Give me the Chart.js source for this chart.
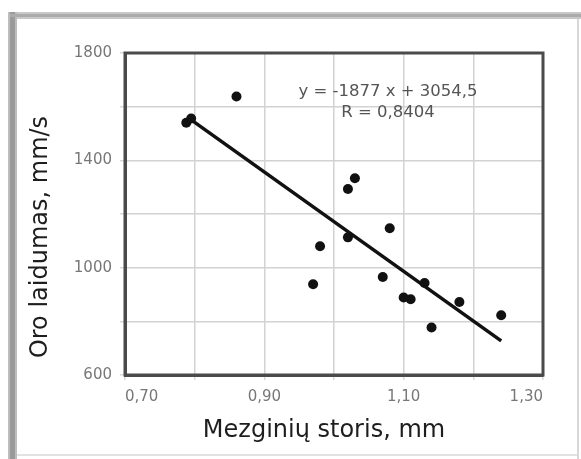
<!DOCTYPE html>
<html>
<head>
<meta charset="utf-8">
<script src="https://cdn.jsdelivr.net/npm/chart.js@4.4.1/dist/chart.umd.min.js"></script>
<style>
  html, body { margin: 0; padding: 0; background: #fff; }
  #wrap { position: relative; width: 581px; height: 459px; }
</style>
</head>
<body>
<div id="wrap"><canvas id="c" width="581" height="459"></canvas></div>
<script>
// ---- data ----
const thickness = [0.788, 0.795, 0.86, 0.97, 0.98, 1.02, 1.02, 1.03, 1.07, 1.08, 1.10, 1.11, 1.13, 1.14, 1.18, 1.24];
const airPermeability = [1540, 1556, 1638, 938, 1080, 1113, 1293, 1333, 965, 1147, 889, 882, 943, 777, 872, 823];
const trendX = [0.79, 1.24];
const trendY = [1560, 727];
const xTickValues = [0.70, 0.90, 1.10, 1.30];
const xTickLabels = ['0,70', '0,90', '1,10', '1,30'];
const yTickValues = [600, 1000, 1400, 1800];
const yTickLabels = ['600', '1000', '1400', '1800'];
const xTitle = 'Mezginių storis, mm';
const yTitle = 'Oro laidumas, mm/s';
const equationLines = ['y = -1877 x + 3054,5', 'R = 0,8404'];

const points = thickness.map((x, i) => ({ x: x, y: airPermeability[i] }));
const trend = trendX.map((x, i) => ({ x: x, y: trendY[i] }));

function lookup(values, labels, v) {
  for (let i = 0; i < values.length; i++) {
    if (Math.abs(values[i] - v) < 1e-6) return labels[i];
  }
  return '';
}

const FONT = '"DejaVu Sans", sans-serif';

const decor = {
  id: 'decor',
  beforeDraw(chart) {
    const ctx = chart.ctx;
    ctx.save();
    ctx.fillStyle = '#fff';
    ctx.fillRect(0, 0, chart.width, chart.height);
    // outer frame
    ctx.fillStyle = '#c8c8c8';
    ctx.fillRect(8, 12, 573, 7);
    ctx.fillStyle = '#bdbdbd';
    ctx.fillRect(8, 12, 9, 447);
    ctx.fillStyle = '#9a9a9a';
    ctx.fillRect(10, 12, 5, 447);
    ctx.fillStyle = '#ababab';
    ctx.fillRect(10, 14, 571, 3);
    ctx.fillStyle = '#d8d8d8';
    ctx.fillRect(577, 19, 2, 440);
    ctx.fillStyle = '#e2e2e2';
    ctx.fillRect(17, 454, 560, 2);
    ctx.restore();
  },
  afterDraw(chart) {
    const ctx = chart.ctx;
    const a = chart.chartArea;
    ctx.save();
    // full plot frame
    ctx.strokeStyle = '#4a4a4a';
    ctx.lineWidth = 3;
    ctx.strokeRect(a.left, a.top, a.right - a.left, a.bottom - a.top);
    // axis titles
    ctx.fillStyle = '#1e1e1e';
    ctx.font = '24px ' + FONT;
    ctx.textAlign = 'center';
    ctx.textBaseline = 'alphabetic';
    ctx.fillText(xTitle, a.left + (a.right - a.left) / 2 - 10, 437);
    ctx.save();
    ctx.translate(47, a.top + (a.bottom - a.top) / 2 + 23);
    ctx.rotate(-Math.PI / 2);
    ctx.fillText(yTitle, 0, 0);
    ctx.restore();
    // regression equation
    ctx.fillStyle = '#555';
    ctx.font = '16.5px ' + FONT;
    ctx.textBaseline = 'middle';
    const cx = chart.scales.x.getPixelForValue(1.0775);
    ctx.fillText(equationLines[0], cx, a.top + 39);
    ctx.fillText(equationLines[1], cx, a.top + 60);
    ctx.restore();
  }
};

new Chart(document.getElementById('c'), {
  type: 'scatter',
  data: {
    datasets: [
      {
        label: 'trend',
        data: trend,
        type: 'line',
        showLine: true,
        borderColor: '#111',
        borderWidth: 3.5,
        pointRadius: 0,
        fill: false,
        order: 2
      },
      {
        label: 'data',
        data: points,
        backgroundColor: '#111',
        borderColor: '#111',
        pointStyle: 'circle',
        pointRadius: 5,
        borderWidth: 0,
        order: 1
      }
    ]
  },
  options: {
    responsive: false,
    devicePixelRatio: 1,
    animation: false,
    layout: { padding: { left: 0, right: 38, top: 53, bottom: 0 } },
    plugins: { legend: { display: false }, tooltip: { enabled: false } },
    scales: {
      x: {
        type: 'linear',
        min: 0.7,
        max: 1.3,
        afterFit(scale) { scale.height = 84; },
        border: { display: true, color: '#4a4a4a', width: 3 },
        grid: { color: '#d2d2d2', lineWidth: 1.5, tickLength: 5, tickColor: '#d8d8d8' },
        ticks: {
          stepSize: 0.1,
          align: 'inner',
          padding: 8,
          color: '#777',
          font: { family: FONT, size: 15 },
          autoSkip: false,
          maxRotation: 0,
          callback: (v) => lookup(xTickValues, xTickLabels, v)
        }
      },
      y: {
        type: 'linear',
        min: 600,
        max: 1800,
        afterFit(scale) { scale.width = 125; },
        border: { display: true, color: '#4a4a4a', width: 3 },
        grid: { color: '#d2d2d2', lineWidth: 1.5, tickLength: 5, tickColor: '#d8d8d8' },
        ticks: {
          stepSize: 200,
          padding: 8,
          color: '#777',
          font: { family: FONT, size: 15 },
          autoSkip: false,
          callback: (v) => lookup(yTickValues, yTickLabels, v)
        }
      }
    }
  },
  plugins: [decor]
});
</script>
</body>
</html>
